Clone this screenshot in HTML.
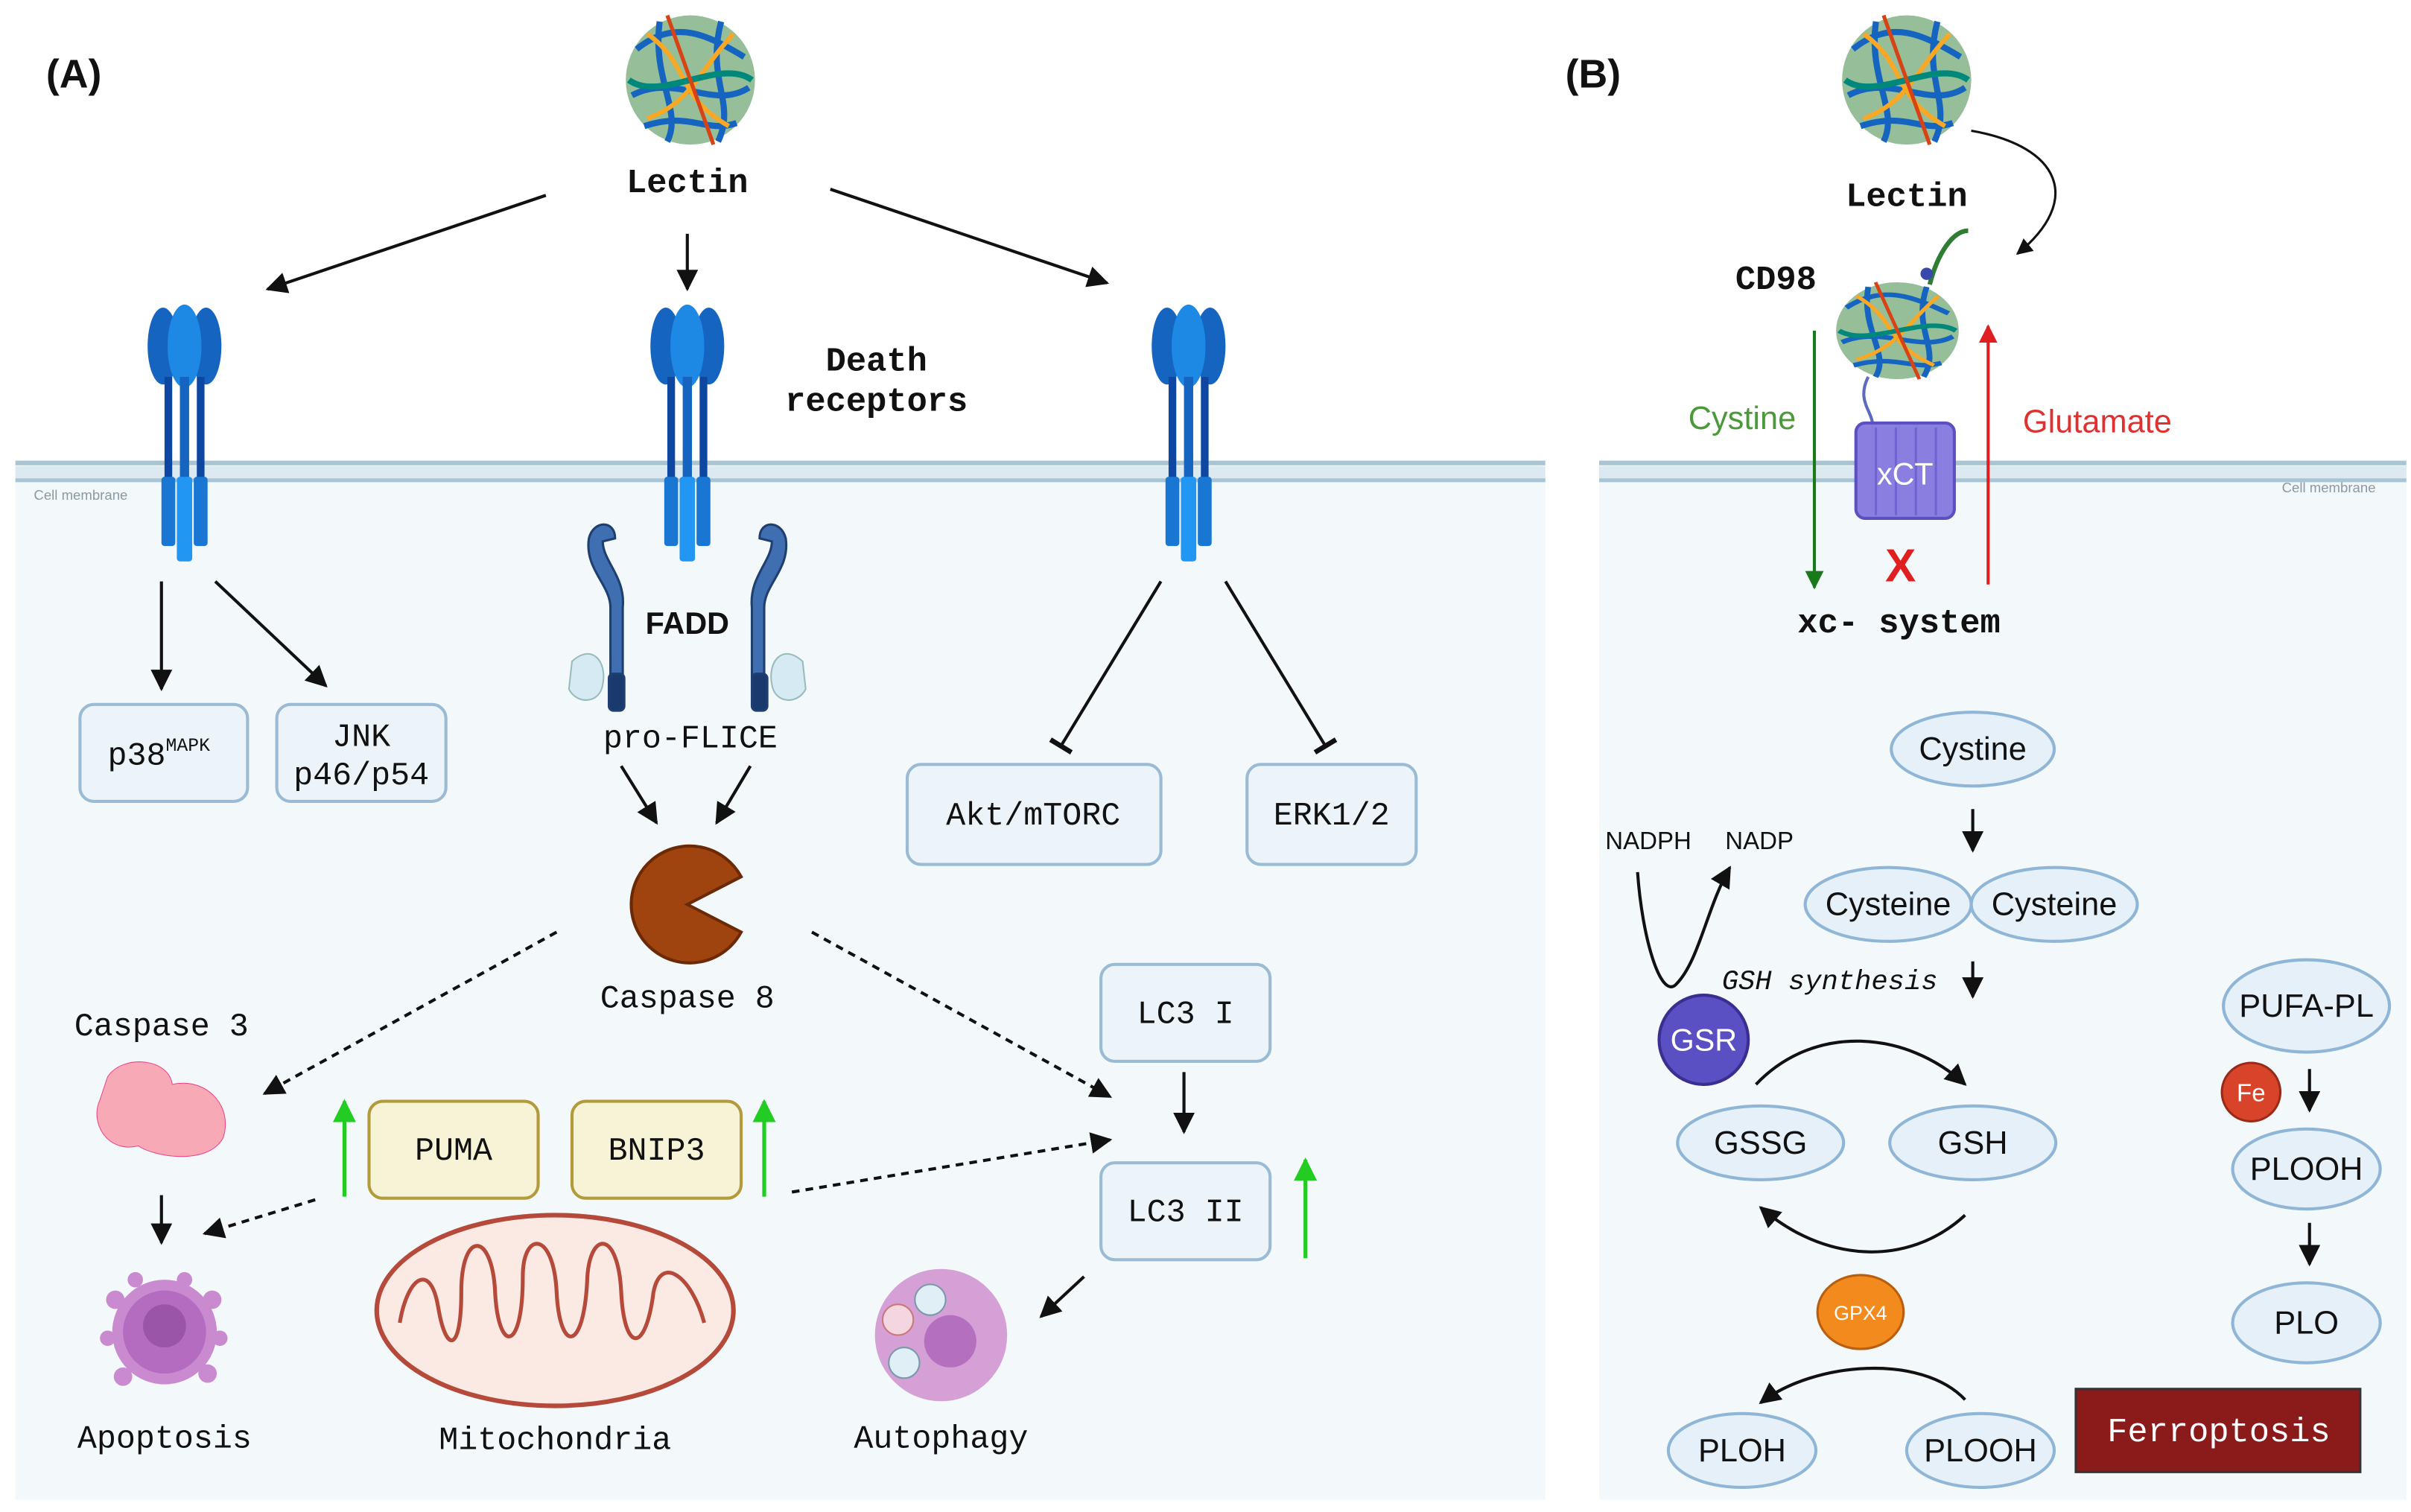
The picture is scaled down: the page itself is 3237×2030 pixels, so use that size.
<!DOCTYPE html>
<html><head><meta charset="utf-8"><style>
html,body{margin:0;padding:0;background:#fff}
svg{display:block}
.m{font-family:"Liberation Mono",monospace;fill:#111}
.s{font-family:"Liberation Sans",sans-serif;fill:#111}
</style></head><body>
<svg width="3237" height="2030" viewBox="0 0 1568 983" preserveAspectRatio="none" xmlns="http://www.w3.org/2000/svg">
<defs>
<marker id="ah" viewBox="0 0 10 10" refX="9" refY="5" markerWidth="7" markerHeight="7" orient="auto-start-reverse"><path d="M0,0L10,5L0,10z" fill="#111"/></marker>
<marker id="ahg" viewBox="0 0 10 10" refX="9" refY="5" markerWidth="6" markerHeight="6" orient="auto"><path d="M0,0L10,5L0,10z" fill="#1a7a1a"/></marker>
<marker id="ahr" viewBox="0 0 10 10" refX="9" refY="5" markerWidth="6" markerHeight="6" orient="auto"><path d="M0,0L10,5L0,10z" fill="#e02020"/></marker>
<marker id="ahl" viewBox="0 0 10 10" refX="9" refY="5" markerWidth="6" markerHeight="6" orient="auto"><path d="M0,0L10,5L0,10z" fill="#22cc22"/></marker>
<marker id="tb" viewBox="0 0 10 10" refX="5" refY="5" markerWidth="8" markerHeight="8" orient="auto"><path d="M5,0L5,10" stroke="#111" stroke-width="2"/></marker>
<g id="rec">
<ellipse cx="-14" cy="25" rx="10" ry="25" fill="#1565c0"/>
<ellipse cx="14" cy="25" rx="10" ry="25" fill="#1565c0"/>
<ellipse cx="0" cy="25" rx="11" ry="27" fill="#1e88e5"/>
<rect x="-13" y="45" width="5" height="75" fill="#0d47a1"/>
<rect x="8" y="45" width="5" height="75" fill="#0d47a1"/>
<rect x="-3" y="45" width="6" height="75" fill="#1565c0"/>
<rect x="-15" y="110" width="9" height="45" rx="2" fill="#1976d2"/>
<rect x="6" y="110" width="9" height="45" rx="2" fill="#1976d2"/>
<rect x="-5" y="110" width="10" height="55" rx="2" fill="#2196f3"/>
</g>
<g id="prot">
<ellipse cx="0" cy="0" rx="42" ry="42" fill="#2e7d32" opacity=".5"/>
<path d="M-35,-20 C-10,-40 10,-30 35,-15 M-38,10 C-10,-5 15,20 38,5 M-20,-38 C-25,0 -5,20 -15,40 M20,-38 C10,0 30,15 18,40 M-30,30 C0,20 10,35 30,28" stroke="#1565c0" stroke-width="4" fill="none"/>
<path d="M-28,-30 C0,-10 -10,10 25,30 M28,-30 C5,-5 0,15 -28,25" stroke="#f9a825" stroke-width="3" fill="none"/>
<path d="M-40,0 C-20,15 20,-15 40,0" stroke="#00897b" stroke-width="4" fill="none"/>
<path d="M-15,-42 L15,42" stroke="#d84315" stroke-width="2.5"/>
</g>
</defs>
<rect width="1568" height="983" fill="#fff"/>
<!-- cell interiors -->
<rect x="10" y="308" width="995" height="667" fill="#f3f8fb"/>
<rect x="1040" y="308" width="525" height="667" fill="#f3f8fb"/>
<g stroke="#a9c4d2" stroke-width="3">
<line x1="10" y1="301" x2="1005" y2="301"/><line x1="10" y1="312" x2="1005" y2="312"/>
<line x1="1040" y1="301" x2="1565" y2="301"/><line x1="1040" y1="312" x2="1565" y2="312"/>
</g>
<rect x="10" y="303" width="995" height="8" fill="#dde9f0"/>
<rect x="1040" y="303" width="525" height="8" fill="#dde9f0"/>
<text x="22" y="325" class="s" font-size="9" fill="#8aa" style="fill:#8a9aa5">Cell membrane</text>
<text x="1484" y="320" class="s" font-size="9" style="fill:#8a9aa5">Cell membrane</text>

<text x="30" y="57" class="s" font-size="26" font-weight="bold">(A)</text>
<text x="1018" y="57" class="s" font-size="26" font-weight="bold">(B)</text>

<!-- Panel A -->
<use href="#prot" x="449" y="52"/>
<text x="447" y="125" class="m" font-size="22" font-weight="bold" text-anchor="middle">Lectin</text>
<g stroke="#111" stroke-width="2" fill="none" marker-end="url(#ah)">
<line x1="355" y1="127" x2="174" y2="188"/>
<line x1="447" y1="152" x2="447" y2="188"/>
<line x1="540" y1="123" x2="720" y2="184"/>
<line x1="105" y1="378" x2="105" y2="448"/>
<line x1="140" y1="378" x2="212" y2="446"/>
<line x1="404" y1="498" x2="427" y2="535"/>
<line x1="488" y1="498" x2="466" y2="535"/>
<line x1="770" y1="697" x2="770" y2="736"/>
<line x1="705" y1="830" x2="677" y2="856"/>
<line x1="105" y1="777" x2="105" y2="808"/>
</g>
<g stroke="#111" stroke-width="2" fill="none" marker-end="url(#tb)">
<line x1="755" y1="378" x2="690" y2="485"/>
<line x1="797" y1="378" x2="862" y2="485"/>
</g>
<g stroke="#111" stroke-width="2" fill="none" stroke-dasharray="5,4" marker-end="url(#ah)">
<line x1="362" y1="606" x2="172" y2="711"/>
<line x1="528" y1="606" x2="722" y2="713"/>
<line x1="205" y1="780" x2="133" y2="802"/>
<line x1="515" y1="775" x2="722" y2="741"/>
</g>
<use href="#rec" x="120" y="200"/>
<use href="#rec" x="447" y="200"/>
<use href="#rec" x="773" y="200"/>
<text x="570" y="241" class="m" font-size="22" font-weight="bold" text-anchor="middle">Death</text>
<text x="570" y="267" class="m" font-size="22" font-weight="bold" text-anchor="middle">receptors</text>
<!-- FADD -->
<g fill="#3f6fb0" stroke="#1f3f70" stroke-width="1.5">
<path d="M397,440 L397,395 C397,380 380,370 383,350 C386,338 400,338 400,350 L392,352 C392,365 407,375 405,395 L405,440z"/>
<path d="M497,440 L497,395 C497,380 514,370 511,350 C508,338 494,338 494,350 L502,352 C502,365 487,375 489,395 L489,440z"/>
<rect x="396" y="438" width="10" height="24" rx="3" fill="#1a3a6e"/>
<rect x="489" y="438" width="10" height="24" rx="3" fill="#1a3a6e"/>
</g>
<path d="M372,430 C385,418 395,430 392,445 C390,458 375,458 370,448z" fill="#d6eaf3" stroke="#9bb" />
<path d="M522,430 C509,418 499,430 502,445 C504,458 519,458 524,448z" fill="#d6eaf3" stroke="#9bb"/>
<text x="447" y="412" class="s" font-size="20" font-weight="bold" text-anchor="middle">FADD</text>
<text x="449" y="486" class="m" font-size="21" text-anchor="middle">pro-FLICE</text>
<path d="M447,588 L482,570 A38,38 0 1,0 482,606 Z" fill="#a0440f" stroke="#6b2a05" stroke-width="2"/>
<text x="447" y="655" class="m" font-size="21" text-anchor="middle">Caspase 8</text>
<g fill="#ecf4f9" stroke="#9bbbd4" stroke-width="2">
<rect x="52" y="458" width="109" height="63" rx="9"/>
<rect x="180" y="458" width="110" height="63" rx="9"/>
<rect x="590" y="497" width="165" height="65" rx="9"/>
<rect x="811" y="497" width="110" height="65" rx="9"/>
<rect x="716" y="627" width="110" height="63" rx="9"/>
<rect x="716" y="756" width="110" height="63" rx="9"/>
</g>
<text x="70" y="497" class="m" font-size="21">p38<tspan font-size="12" dy="-9">MAPK</tspan></text>
<text x="235" y="485" class="m" font-size="21" text-anchor="middle">JNK</text>
<text x="235" y="510" class="m" font-size="21" text-anchor="middle">p46/p54</text>
<text x="672" y="536" class="m" font-size="21" text-anchor="middle">Akt/mTORC</text>
<text x="866" y="536" class="m" font-size="21" text-anchor="middle">ERK1/2</text>
<text x="771" y="665" class="m" font-size="21" text-anchor="middle">LC3 I</text>
<text x="771" y="794" class="m" font-size="21" text-anchor="middle">LC3 II</text>
<g fill="#f7f3d6" stroke="#b39a3a" stroke-width="2">
<rect x="240" y="716" width="110" height="63" rx="9"/>
<rect x="372" y="716" width="110" height="63" rx="9"/>
</g>
<text x="295" y="754" class="m" font-size="21" text-anchor="middle">PUMA</text>
<text x="427" y="754" class="m" font-size="21" text-anchor="middle">BNIP3</text>
<g stroke="#22cc22" stroke-width="2.5" marker-end="url(#ahl)">
<line x1="224" y1="778" x2="224" y2="716"/>
<line x1="497" y1="778" x2="497" y2="716"/>
<line x1="849" y1="818" x2="849" y2="754"/>
</g>
<text x="105" y="673" class="m" font-size="21" text-anchor="middle">Caspase 3</text>
<path d="M70,700 C80,685 110,688 112,705 C135,700 152,720 145,740 C135,758 100,752 90,745 C70,750 58,730 65,715z" fill="#f7a9b5" stroke="#e48"  stroke-width=".5"/>
<!-- apoptosis cell -->
<circle cx="107" cy="866" r="34" fill="#c98ad0"/>
<circle cx="107" cy="866" r="27" fill="#b36cbf"/>
<circle cx="107" cy="862" r="14" fill="#9a55a8"/>
<g fill="#c98ad0"><circle cx="75" cy="845" r="6"/><circle cx="138" cy="845" r="6"/><circle cx="80" cy="895" r="6"/><circle cx="135" cy="893" r="6"/><circle cx="120" cy="832" r="5"/><circle cx="88" cy="832" r="5"/><circle cx="143" cy="870" r="5"/><circle cx="70" cy="870" r="5"/></g>
<text x="107" y="941" class="m" font-size="21" text-anchor="middle">Apoptosis</text>
<!-- mitochondria -->
<ellipse cx="361" cy="852" rx="116" ry="62" fill="#fbe9e4" stroke="#b5493a" stroke-width="3"/>
<path d="M260,860 C265,830 280,820 285,850 C290,880 300,880 300,840 C300,800 320,800 322,840 C324,880 340,880 340,830 C340,800 360,800 362,840 C364,880 380,880 382,830 C384,800 402,800 404,840 C406,880 420,880 425,840 C430,815 450,830 458,860" fill="none" stroke="#b5493a" stroke-width="2.5"/>
<text x="361" y="942" class="m" font-size="21" text-anchor="middle">Mitochondria</text>
<!-- autophagy -->
<circle cx="612" cy="868" r="43" fill="#d5a0d6"/>
<circle cx="618" cy="872" r="17" fill="#b56fbf"/>
<circle cx="584" cy="858" r="10" fill="#f3d6e0" stroke="#c77"/>
<circle cx="605" cy="845" r="10" fill="#e0eef6" stroke="#79a"/>
<circle cx="588" cy="886" r="10" fill="#e0eef6" stroke="#79a"/>
<text x="612" y="941" class="m" font-size="21" text-anchor="middle">Autophagy</text>

<!-- Panel B -->
<use href="#prot" x="1240" y="52"/>
<text x="1240" y="134" class="m" font-size="22" font-weight="bold" text-anchor="middle">Lectin</text>
<path d="M1282,85 C1340,95 1355,130 1312,165" fill="none" stroke="#111" stroke-width="1.5" marker-end="url(#ah)"/>
<text x="1155" y="188" class="m" font-size="22" font-weight="bold" text-anchor="middle">CD98</text>
<g transform="translate(1234,215) scale(0.95,0.75)"><use href="#prot"/></g>
<path d="M1255,185 C1260,165 1270,150 1280,150" stroke="#2e7d32" stroke-width="3" fill="none"/>
<circle cx="1253" cy="178" r="4" fill="#3949ab"/>
<path d="M1215,245 C1205,265 1225,270 1215,285" stroke="#5c6bc0" stroke-width="2" fill="none"/>
<rect x="1207" y="275" width="64" height="62" rx="6" fill="#8a7fe0" stroke="#5c50c0" stroke-width="2"/>
<g stroke="#6e63d0" stroke-width="1.5"><line x1="1220" y1="278" x2="1220" y2="335"/><line x1="1233" y1="278" x2="1233" y2="335"/><line x1="1246" y1="278" x2="1246" y2="335"/><line x1="1259" y1="278" x2="1259" y2="335"/></g>
<text x="1239" y="315" class="s" font-size="20" text-anchor="middle" style="fill:#fff">xCT</text>
<line x1="1180" y1="215" x2="1180" y2="382" stroke="#1a7a1a" stroke-width="2" marker-end="url(#ahg)"/>
<line x1="1293" y1="380" x2="1293" y2="212" stroke="#e02020" stroke-width="2" marker-end="url(#ahr)"/>
<text x="1133" y="279" class="s" font-size="21" text-anchor="middle" style="fill:#4a9a3a">Cystine</text>
<text x="1364" y="281" class="s" font-size="21" text-anchor="middle" style="fill:#e03030">Glutamate</text>
<text x="1236" y="378" class="s" font-size="30" font-weight="bold" text-anchor="middle" style="fill:#e02020">X</text>
<text x="1235" y="411" class="m" font-size="22" font-weight="bold" text-anchor="middle">xc- system</text>
<g fill="#e6f0f8" stroke="#8fb6d6" stroke-width="2">
<ellipse cx="1283" cy="487" rx="53" ry="24"/>
<ellipse cx="1228" cy="588" rx="54" ry="24"/>
<ellipse cx="1336" cy="588" rx="54" ry="24"/>
<ellipse cx="1145" cy="743" rx="54" ry="24"/>
<ellipse cx="1283" cy="743" rx="54" ry="24"/>
<ellipse cx="1133" cy="943" rx="48" ry="24"/>
<ellipse cx="1288" cy="943" rx="48" ry="24"/>
<ellipse cx="1500" cy="654" rx="54" ry="30"/>
<ellipse cx="1500" cy="760" rx="48" ry="26"/>
<ellipse cx="1500" cy="860" rx="48" ry="26"/>
</g>
<g class="s" font-size="21" text-anchor="middle">
<text x="1283" y="494">Cystine</text>
<text x="1228" y="595">Cysteine</text>
<text x="1336" y="595">Cysteine</text>
<text x="1145" y="750">GSSG</text>
<text x="1283" y="750">GSH</text>
<text x="1133" y="950">PLOH</text>
<text x="1288" y="950">PLOOH</text>
<text x="1500" y="661">PUFA-PL</text>
<text x="1500" y="767">PLOOH</text>
<text x="1500" y="867">PLO</text>
</g>
<text x="1044" y="552" class="s" font-size="16">NADPH</text>
<text x="1122" y="552" class="s" font-size="16">NADP</text>
<path d="M1065,567 C1068,610 1080,650 1090,640 C1105,625 1110,590 1125,564" fill="none" stroke="#111" stroke-width="2" marker-end="url(#ah)"/>
<text x="1190" y="643" class="m" font-size="18" font-style="italic" text-anchor="middle">GSH synthesis</text>
<g stroke="#111" stroke-width="2" fill="none" marker-end="url(#ah)">
<line x1="1283" y1="526" x2="1283" y2="553"/>
<line x1="1283" y1="625" x2="1283" y2="648"/>
<line x1="1502" y1="695" x2="1502" y2="722"/>
<line x1="1502" y1="795" x2="1502" y2="822"/>
<path d="M1142,705 C1180,665 1240,670 1278,705"/>
<path d="M1278,790 C1240,825 1185,820 1145,785"/>
<path d="M1278,910 C1250,880 1180,885 1145,912"/>
</g>
<circle cx="1108" cy="676" r="29" fill="#5b4fc4" stroke="#3a2f90" stroke-width="2"/>
<text x="1108" y="683" class="s" font-size="20" text-anchor="middle" style="fill:#fff">GSR</text>
<circle cx="1464" cy="710" r="19" fill="#d8442a" stroke="#9a2a18" stroke-width="1.5"/>
<text x="1464" y="716" class="s" font-size="16" text-anchor="middle" style="fill:#fff">Fe</text>
<ellipse cx="1210" cy="853" rx="28" ry="24" fill="#f28a1e" stroke="#b85e0c" stroke-width="1.5"/>
<text x="1210" y="858" class="s" font-size="13" text-anchor="middle" style="fill:#fff">GPX4</text>
<rect x="1350" y="903" width="185" height="54" fill="#8b1a1a" stroke="#333" stroke-width="1.5"/>
<text x="1443" y="937" class="m" font-size="22" text-anchor="middle" style="fill:#fff">Ferroptosis</text>
</svg>
</body></html>
